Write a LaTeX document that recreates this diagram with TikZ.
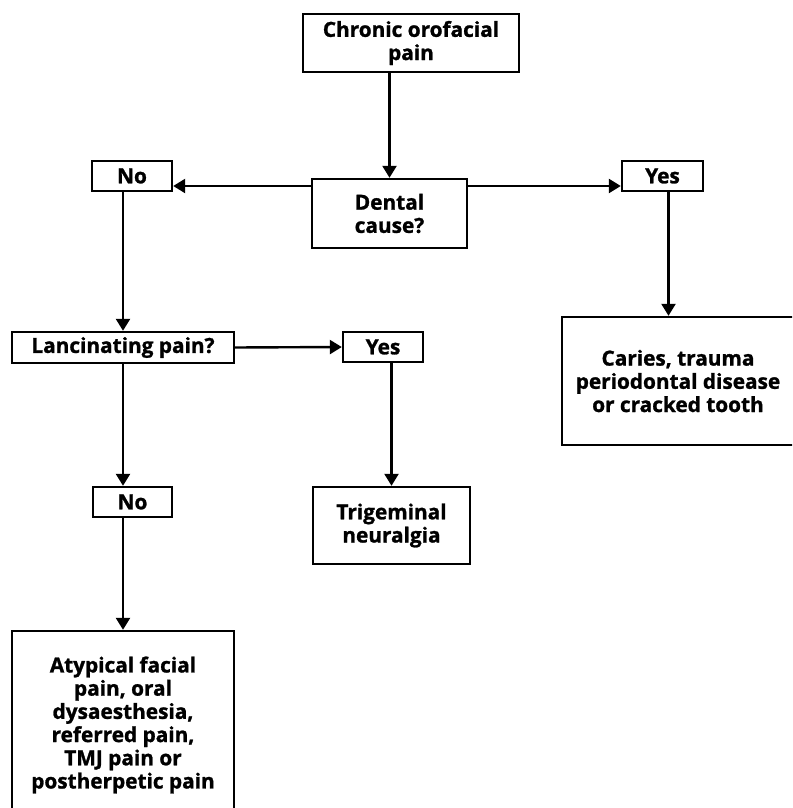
\documentclass[tikz,border=0pt]{standalone}
\usepackage{fontspec}
\setmainfont{Open Sans}[BoldFeatures={FakeBold=1.2}]
\usetikzlibrary{arrows.meta}

\begin{document}
\begin{tikzpicture}[x=0.5pt, y=-0.5pt, line width=1.2pt,
  >={Triangle[length=6pt,width=7pt]},
  box/.style={draw, align=center, inner sep=0pt, font=\bfseries\fontsize{10.4}{11.6}\selectfont}]
\useasboundingbox (0,0) rectangle (792,808);
\clip (0,0) rectangle (792,808);
\node[box, minimum width=108pt, minimum height=29pt] (pain) at (411,43) {Chronic orofacial\\pain};
\node[box, minimum width=77.5pt, minimum height=34.5pt] (dental) at (389.5,213.5) {Dental\\cause?};
\node[box, minimum width=40pt, minimum height=15pt] (no1) at (132,176) {No};
\node[box, minimum width=40.5pt, minimum height=15pt] (yes1) at (662.5,176) {Yes};
\node[box, minimum width=111pt, minimum height=15.5pt] (lanc) at (123,347.5) {Lancinating pain?};
\node[box, minimum width=40pt, minimum height=15pt] (yes2) at (383,347) {Yes};
\node[box, minimum width=78.5pt, minimum height=38.5pt] (trig) at (391.5,525.5) {Trigeminal\\neuralgia};
\node[box, minimum width=39.5pt, minimum height=15pt] (no2) at (132.5,502) {No};
\node[box, minimum width=116pt, minimum height=64pt] (caries) at (678,381) {Caries, trauma\\periodontal disease\\or cracked tooth};
\node[box, minimum width=111pt, minimum height=94pt] (atyp) at (123,725) {Atypical facial\\pain, oral\\dysaesthesia,\\referred pain,\\TMJ pain or\\postherpetic pain};
\coordinate (hl) at (0,186);
\path[->]
(pain.south -| dental.north) edge (dental.north)
(dental.west |- hl) edge (no1.east |- hl)
(dental.east |- hl) edge (yes1.west |- hl)
([xshift=3pt]yes1.south) edge ([xshift=3pt]yes1.south |- caries.north)
(no1.south -| lanc.north) edge (lanc.north)
(lanc.east) edge (yes2.west)
(yes2.south -| trig.north) edge (trig.north)
(lanc.south) edge (lanc.south |- no2.north)
(no2.south -| atyp.north) edge (atyp.north);
\end{tikzpicture}
\end{document}
